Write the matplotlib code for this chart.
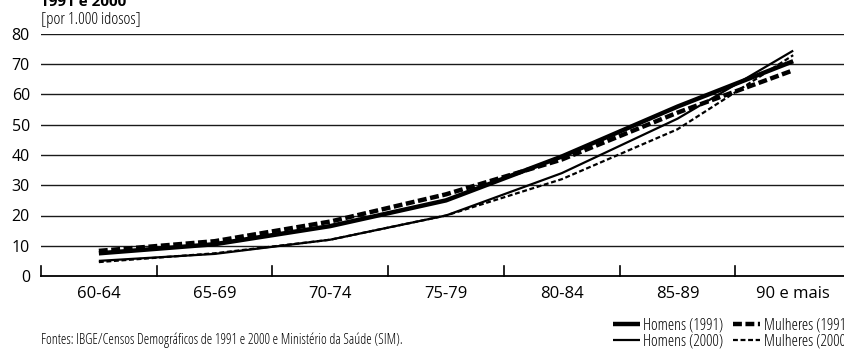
import matplotlib
matplotlib.use("Agg")
import matplotlib.pyplot as plt
from matplotlib.lines import Line2D
import numpy as np

plt.rcParams['font.family'] = ['Open Sans', 'DejaVu Sans']
plt.rcParams['font.stretch'] = 'condensed'

categories = ["60-64", "65-69", "70-74", "75-79", "80-84", "85-89", "90 e mais"]
homens_1991 = [7.5, 10.5, 16.5, 25.0, 39.5, 56.0, 71.0]
mulheres_1991 = [8.3, 11.5, 18.0, 27.0, 38.5, 54.0, 68.0]
homens_2000 = [5.0, 7.3, 12.0, 20.0, 34.0, 52.0, 74.5]
mulheres_2000 = [4.6, 7.5, 12.0, 20.0, 32.0, 48.5, 73.0]
yticks = [0, 10, 20, 30, 40, 50, 60, 70, 80]
legend_labels = ["Homens (1991)", "Homens (2000)", "Mulheres (1991)", "Mulheres (2000)"]

W, H = 844, 349
fig = plt.figure(figsize=(W / 100, H / 100), dpi=100)
left, right, top, bottom = 41, 844, 34, 276
ax = fig.add_axes([left / W, 1 - bottom / H, (right - left) / W, (bottom - top) / H])

x = np.arange(len(categories))
ax.plot(x, homens_1991, color='black', lw=3.2, solid_capstyle='butt', zorder=3)
ax.plot(x, mulheres_1991, color='black', lw=3.2, dashes=(2.0, 0.8), zorder=3)
ax.plot(x, homens_2000, color='black', lw=1.6, solid_capstyle='butt', zorder=4)
ax.plot(x, mulheres_2000, color='black', lw=1.6, dashes=(2.2, 1.2), zorder=4)

ax.set_xlim(-0.5, (right - 99) / 115.7)
ax.set_ylim(0, 80)
ax.set_yticks(yticks)
ax.set_yticklabels([str(v) for v in yticks], fontsize=11.5, fontstretch='normal')
for v in yticks[1:]:
    ax.axhline(v, color='#1a1a1a', lw=1.0, zorder=1)

ax.set_xticks(x)
ax.set_xticklabels(categories, fontsize=12, fontstretch='normal')
ax.tick_params(axis='x', length=0, pad=7)
ax.tick_params(axis='y', length=0, pad=8)
for b in np.arange(-0.5, len(categories) - 0.5, 1.0):
    ax.plot([b, b], [0, 3.3], color='black', lw=1.2, clip_on=False, zorder=2)

for s in ['top', 'right', 'left']:
    ax.spines[s].set_visible(False)
ax.spines['bottom'].set_linewidth(1.3)

fig.text(41 / W, 1 - 20 / H, "[por 1.000 idosos]", fontsize=12, va='center', ha='left')
fig.text(40 / W, 1 - 6 / H, "1991 e 2000", fontsize=11, fontweight='bold', va='baseline', ha='left')
fig.text(41 / W, 1 - 340 / H, "Fontes: IBGE/Censos Demográficos de 1991 e 2000 e Ministério da Saúde (SIM).",
         fontsize=10, va='center', ha='left')

handles = [
    Line2D([], [], color='black', lw=3.2, solid_capstyle='butt'),
    Line2D([], [], color='black', lw=1.6, solid_capstyle='butt'),
    Line2D([], [], color='black', lw=3.2, dashes=(2.0, 0.8)),
    Line2D([], [], color='black', lw=1.6, dashes=(2.2, 1.2)),
]
fig.legend(handles, legend_labels, ncol=2, frameon=False, fontsize=11.5,
           loc='upper left', bbox_to_anchor=(613 / W, 1 - 318 / H),
           handlelength=1.7, handletextpad=0.2, columnspacing=0.6,
           labelspacing=-0.05, borderpad=0, borderaxespad=0)

fig.savefig("out.png", dpi=100)
